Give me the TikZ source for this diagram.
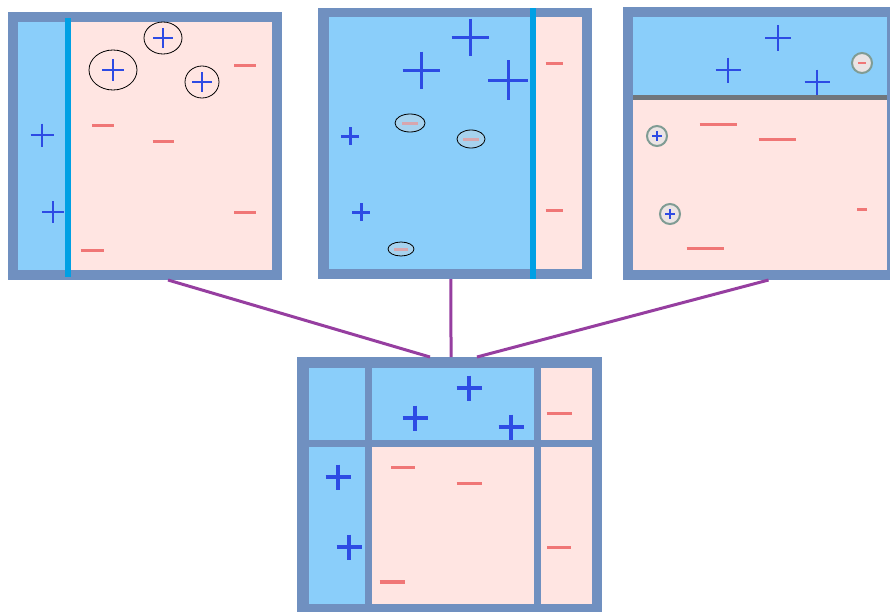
\documentclass[tikz,border=0pt]{standalone}
\usetikzlibrary{calc}
\definecolor{framec}{RGB}{112,144,192}
\definecolor{lblue}{RGB}{138,206,250}
\definecolor{lpink}{RGB}{255,229,226}
\definecolor{wall}{RGB}{0,160,228}
\definecolor{plusc}{RGB}{45,75,228}
\definecolor{minusc}{RGB}{240,118,118}
\definecolor{connc}{RGB}{150,62,160}
\definecolor{sepc}{RGB}{112,118,124}
\definecolor{ringc}{RGB}{128,156,148}
\tikzset{
  panel/.style={rectangle, fill=framec, inner sep=0pt, outer sep=0pt},
  plusmark/.style={draw=plusc, line cap=butt},
  minusmark/.style={draw=minusc, line width=3pt},
  conn/.style={draw=connc, line width=3pt},
  ring/.style={draw=black, line width=0.8pt},
  grayring/.style={draw=ringc, line width=2pt, fill=lpink!60!gray!40},
}
\newcommand\pl[4][2.5]{\draw[plusmark, line width=#1pt] ({#2-#4/2},{#3}) -- ++(#4,0) ({#2},{#3-#4/2}) -- ++(0,#4);}
\newcommand\mn[4][3]{\draw[minusmark, line width=#1pt] ({#2-#4/2},{#3}) -- ++(#4,0);}
\begin{document}
\begin{tikzpicture}[x=1pt,y=-1pt]
\useasboundingbox (0,0) rectangle (890,613);
% ---------- panel 1
\node[panel, minimum width=274pt, minimum height=268pt] (p1) at (145,146) {};
\fill[lblue] (18,22) rectangle (68,270);
\fill[lpink] (68,22) rectangle (272,270);
\draw[wall, line width=6pt] (68,18) -- (68,277);
\pl{42}{135}{23}
\pl{53}{212}{22}
\pl{113}{70}{22}
\pl{163}{38}{20}
\pl{202}{82}{20}
\draw[ring] (113,70) ellipse [x radius=24, y radius=20];
\draw[ring] (163,38) ellipse [x radius=19, y radius=16];
\draw[ring] (202,82) ellipse [x radius=17, y radius=16];
\mn{245}{65}{22}
\mn{103}{125}{22}
\mn{163}{141}{21}
\mn{245}{212}{22}
\mn{92}{250}{23}
% ---------- panel 2
\node[panel, minimum width=274pt, minimum height=271pt] (p2) at (455,143.5) {};
\fill[lblue] (329,17) rectangle (533,269);
\fill[lpink] (533,17) rectangle (582,269);
\draw[wall, line width=6pt] (533,8) -- (533,279);
\pl[3]{470}{37}{37}
\pl[3]{421}{70}{37}
\pl[3]{508}{80}{40}
\pl[3]{350}{136}{18}
\pl[3]{361}{212}{18}
\mn[3]{410}{123}{16}
\mn[3]{471}{139}{16}
\mn[3]{401}{249}{14}
\draw[ring, fill=lblue!60!gray!50, fill opacity=0.5] (410,123) ellipse [x radius=15, y radius=9];
\draw[ring, fill=lblue!60!gray!50, fill opacity=0.5] (471,139) ellipse [x radius=14, y radius=9];
\draw[ring, fill=lblue!60!gray!50, fill opacity=0.5] (401,249) ellipse [x radius=13, y radius=7];
\mn{554}{63}{17}
\mn{554}{210}{17}
% ---------- panel 3
\node[panel, minimum width=268pt, minimum height=273pt] (p3) at (757,143.5) {};
\fill[lblue] (633,17) rectangle (887,97);
\fill[lpink] (633,97) rectangle (887,270);
\draw[sepc, line width=5pt] (633,97) -- (887,97);
\pl{728}{70}{25}
\pl{778}{38}{26}
\pl{817}{82}{25}
\draw[grayring] (862,63) circle [radius=10];
\mn[2.5]{862}{63}{8}
\draw[grayring] (657,136) circle [radius=10];
\pl[2]{657}{136}{10}
\draw[grayring] (670,214) circle [radius=10];
\pl[2]{670}{214}{10}
\mn{718}{124}{37}
\mn{777}{139}{37}
\mn{862}{209}{10}
\mn{705}{248}{37}
% ---------- panel 4
\node[panel, minimum width=305pt, minimum height=255pt] (p4) at (449.5,484.5) {};
\fill[lblue] (309,368) rectangle (364.5,439.5);
\fill[lblue] (371.5,368) rectangle (533.5,439.5);
\fill[lpink] (540.5,368) rectangle (592,439.5);
\fill[lblue] (309,446.5) rectangle (364.5,604);
\fill[lpink] (371.5,446.5) rectangle (533.5,604);
\fill[lpink] (540.5,446.5) rectangle (592,604);
\pl[3.5]{469}{388}{25}
\pl[3.5]{415}{418}{25}
\pl[3.5]{511}{427}{25}
\pl[3.5]{338}{477}{25}
\pl[3.5]{349}{547}{25}
\mn{559}{413}{25}
\mn{403}{467}{24}
\mn{469}{483}{25}
\mn{559}{547}{24}
\mn[3.5]{392}{582}{25}
% ---------- connectors
\draw[conn] ($(p1.south west)!0.584!(p1.south east)$) -- ($(p4.north west)!0.436!(p4.north east)$);
\draw[conn] ($(p2.south west)!0.485!(p2.south east)$) -- ($(p4.north west)!0.505!(p4.north east)$);
\draw[conn] ($(p3.south west)!0.543!(p3.south east)$) -- ($(p4.north west)!0.59!(p4.north east)$);
\end{tikzpicture}
\end{document}
